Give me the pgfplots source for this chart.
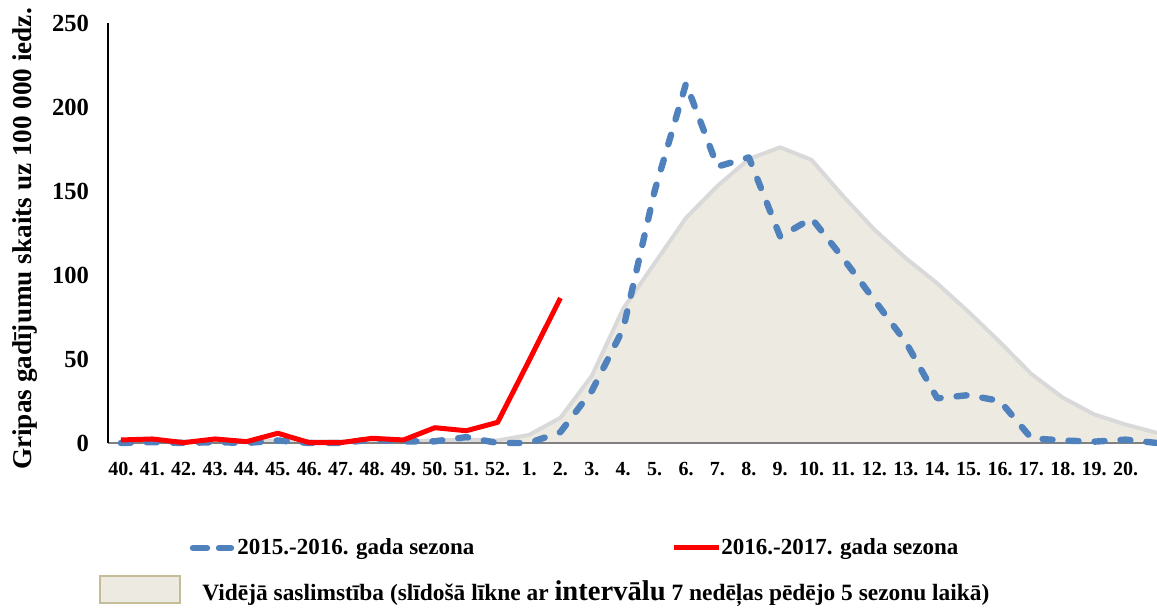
\documentclass[border=0pt]{standalone}
\usepackage{fontspec}
\setmainfont{Liberation Serif}
\usepackage{pgfplots}
\usepackage{pgfplotstable}
\pgfplotsset{compat=1.18}
\definecolor{excelblue}{RGB}{79,129,189}
\definecolor{avgfill}{RGB}{237,235,225}
\definecolor{avgline}{RGB}{217,217,217}
\definecolor{legendedge}{RGB}{196,189,151}
\definecolor{axisgray}{RGB}{128,128,128}

% week index: 0 = week 40, 12 = week 52, 13 = week 1, ...
\pgfplotstableread{
idx avg
0 1
1 1
2 1
3 1
4 1
5 1.5
6 1
7 1
8 1
9 1
10 1.5
11 2
12 1.5
13 4.8
14 15
15 40
16 80
17 107
18 134
19 153
20 169
21 176
22 168.5
23 147
24 127
25 110
26 95
27 78
28 60
29 41
30 27
31 17
32 11
33 6
}\avgdata

\pgfplotstableread{
idx val
0 0
1 0.5
2 0
3 0.5
4 0
5 1.5
6 0
7 0
8 2
9 1
10 1
11 3.5
12 0
13 0
14 6.5
15 31
16 68
17 150
18 214
19 164.5
20 170
21 122.8
22 133.7
23 110
24 85
25 60
26 26.6
27 28.5
28 25
29 2.8
30 1.5
31 0.8
32 2
33 0
}\seasonA

\pgfplotstableread{
idx val
0 1.8
1 2.4
2 0.2
3 2.4
4 0.8
5 5.8
6 0.2
7 0.2
8 2.8
9 1.8
10 9.1
11 7.3
12 12.3
13 49
14 86.3
}\seasonB

\begin{document}
\begin{tikzpicture}
\begin{axis}[
  set layers,
  at={(0,0)}, anchor=south west,
  scale only axis,
  width=524.5pt, height=210pt,
  xmin=-0.41, xmax=33,
  ymin=0, ymax=250,
  clip=false,
  axis x line*=bottom, axis y line*=left,
  x axis line style={-,draw=axisgray,line width=1pt},
  y axis line style={-,draw=black,line width=1.2pt},
  major tick length=0pt,
  xtick={0,...,32},
  xticklabels={40.,41.,42.,43.,44.,45.,46.,47.,48.,49.,50.,51.,52.,1.,2.,3.,4.,5.,6.,7.,8.,9.,10.,11.,12.,13.,14.,15.,16.,17.,18.,19.,20.},
  ytick={0,50,100,150,200,250},
  /pgf/number format/assume math mode=true,
  xticklabel style={font=\bfseries\fontsize{10}{12}\selectfont, yshift=-6pt},
  yticklabel style={font=\bfseries\fontsize{12.3}{14}\selectfont, xshift=-6pt},
]
\addplot[on layer=axis background, fill=avgfill, draw=none] table[x=idx,y=avg] {\avgdata} \closedcycle;
\addplot[on layer=axis background, draw=avgline, line width=2pt, line join=round] table[x=idx,y=avg] {\avgdata};
\addplot[excelblue, line width=3.2pt, line cap=round, line join=round, dash pattern=on 5pt off 8pt] table[x=idx,y=val] {\seasonA};
\addplot[red, line width=2.5pt, line join=round] table[x=idx,y=val] {\seasonB};
\end{axis}

% everything below is placed in reference pixels (1 px = 0.5pt)
\begin{scope}[x=0.5pt,y=-0.5pt,shift={(-54pt,221.5pt)}]
  \node[rotate=90, font=\bfseries\fontsize{13.6}{16}\selectfont] at (25,239) {Gripas gadījumu skaits uz 100 000 iedz.};
  % legend
  \draw[excelblue, line width=3.2pt, line cap=round, dash pattern=on 7pt off 6pt] (193,548) -- (231,548);
  \node[anchor=west, inner sep=0pt, font=\bfseries\fontsize{11.5}{13}\selectfont] at (237,549) {2015.-2016. gada sezona};
  \draw[red, line width=2.5pt] (674,548) -- (719,548);
  \node[anchor=west, inner sep=0pt, font=\bfseries\fontsize{11.5}{13}\selectfont] at (721,549) {2016.-2017. gada sezona};
  \draw[fill=avgfill, draw=legendedge, line width=1pt] (100,576) rectangle (180,603);
  \node[anchor=west, inner sep=0pt, font=\bfseries\fontsize{11.7}{13}\selectfont] at (202,594) {Vidējā saslimstība (slīdošā līkne ar {\fontsize{14.3}{16}\selectfont intervālu} 7 nedēļas pēdējo 5 sezonu laikā)};
\end{scope}

\pgfresetboundingbox
\begin{scope}[x=0.5pt,y=-0.5pt,shift={(-54pt,221.5pt)}]
  \path[use as bounding box] (0,0) rectangle (1157,609);
\end{scope}
\end{tikzpicture}
\end{document}
